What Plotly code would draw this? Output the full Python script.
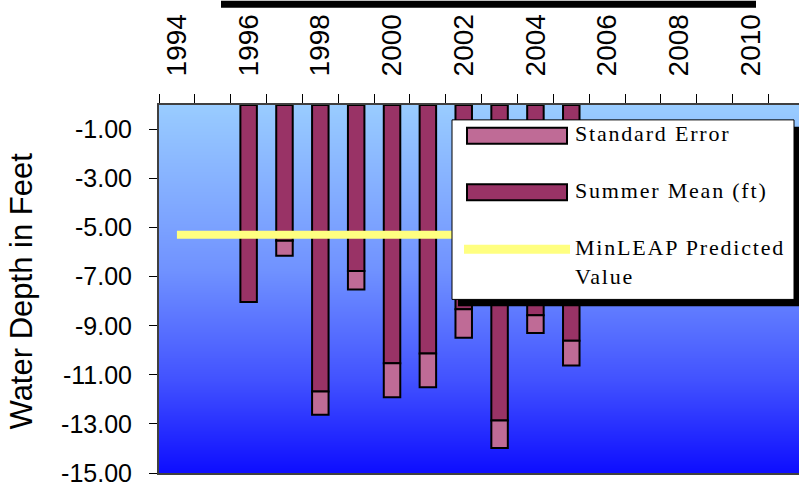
import base64
import struct
import zlib
import plotly.graph_objects as go

# ---- data ----
bar_years = [1996, 1997, 1998, 1999, 2000, 2001, 2002, 2003, 2004, 2005]
summer_mean = [-8.03, -5.53, -11.68, -6.77, -10.53, -10.13, -8.33, -12.86, -8.57, -9.61]
std_error = [0.0, -0.61, -0.95, -0.75, -1.38, -1.37, -1.16, -1.12, -0.72, -1.01]
line_years = [1994, 1995, 1996, 1997, 1998, 1999, 2000, 2001, 2002, 2003, 2004, 2005]
minleap_value = [-5.29] * len(line_years)
axis_years = list(range(1994, 2012))
label_years = [1994, 1996, 1998, 2000, 2002, 2004, 2006, 2008, 2010]
y_ticks = [-1, -3, -5, -7, -9, -11, -13, -15]
y_ticktext = ["-1.00", "-3.00", "-5.00", "-7.00", "-9.00", "-11.00", "-13.00", "-15.00"]

W, H = 799, 487
L, T, B, R = 159, 105, 11, 0
PW, PH = W - L - R, H - T - B

def px(x):
    return (x - L) / PW

def py(y):
    return (H - B - y) / PH

MEAN_C = "#993366"
SE_C = "#BF6B96"
YEL = "#FFFF80"

# ---- vertical gradient background as a small PNG ----
stops = [(0.0, (153, 204, 255)), (0.45, (112, 146, 255)), (0.75, (66, 82, 255)), (1.0, (14, 14, 255))]
def grad(f):
    for (f0, c0), (f1, c1) in zip(stops[:-1], stops[1:]):
        if f0 <= f <= f1:
            t = (f - f0) / (f1 - f0)
            return tuple(round(a + (b - a) * t) for a, b in zip(c0, c1))
    return stops[-1][1]

def make_png(rows):
    h = len(rows)
    raw = b"".join(b"\x00" + bytes(c) for c in rows)
    def chunk(tag, data):
        return struct.pack(">I", len(data)) + tag + data + struct.pack(">I", zlib.crc32(tag + data) & 0xffffffff)
    ihdr = struct.pack(">IIBBBBB", 1, h, 8, 2, 0, 0, 0)
    return b"\x89PNG\r\n\x1a\n" + chunk(b"IHDR", ihdr) + chunk(b"IDAT", zlib.compress(raw)) + chunk(b"IEND", b"")

NG = 371
png = make_png([grad(i / (NG - 1)) for i in range(NG)])
bg_src = "data:image/png;base64," + base64.b64encode(png).decode()

fig = go.Figure()
fig.add_trace(go.Bar(x=bar_years, y=summer_mean, name="Summer Mean (ft)", width=0.46,
                     marker=dict(color=MEAN_C, line=dict(color="black", width=2))))
fig.add_trace(go.Bar(x=bar_years, y=std_error, name="Standard Error", width=0.46,
                     marker=dict(color=SE_C, line=dict(color="black", width=2))))
fig.add_trace(go.Scatter(x=line_years, y=minleap_value, mode="lines", name="MinLEAP Predicted Value",
                         line=dict(color=YEL, width=8)))

shapes = []
# black bar at top
shapes.append(dict(type="rect", xref="paper", yref="paper", x0=px(221), x1=px(756), y0=py(7), y1=py(0),
                   fillcolor="black", line=dict(width=0), layer="above"))
# legend box with shadow
shapes.append(dict(type="rect", xref="paper", yref="paper", x0=px(458), x1=px(801), y0=py(308), y1=py(127),
                   fillcolor="black", line=dict(width=0), layer="above"))
shapes.append(dict(type="rect", xref="paper", yref="paper", x0=px(452), x1=px(794), y0=py(301), y1=py(120),
                   fillcolor="white", line=dict(color="black", width=1), layer="above"))
shapes.append(dict(type="rect", xref="paper", yref="paper", x0=px(467), x1=px(567), y0=py(144), y1=py(128),
                   fillcolor=SE_C, line=dict(color="black", width=2), layer="above"))
shapes.append(dict(type="rect", xref="paper", yref="paper", x0=px(467), x1=px(567), y0=py(201), y1=py(185),
                   fillcolor=MEAN_C, line=dict(color="black", width=2), layer="above"))
shapes.append(dict(type="line", xref="paper", yref="paper", x0=px(464), x1=px(570), y0=py(250.5), y1=py(250.5),
                   line=dict(color=YEL, width=9), layer="above"))

serif = dict(family="Liberation Serif, Times New Roman, serif", size=22, color="black")
def ls(t):
    return '<span style="letter-spacing:1.8px">%s</span>' % t

annotations = [
    dict(text=ls("Standard Error"), x=px(573), y=py(134), xref="paper", yref="paper",
         xanchor="left", yanchor="middle", showarrow=False, font=serif),
    dict(text=ls("Summer Mean (ft)"), x=px(573), y=py(191), xref="paper", yref="paper",
         xanchor="left", yanchor="middle", showarrow=False, font=serif),
    dict(text=ls("MinLEAP Predicted"), x=px(573), y=py(249), xref="paper", yref="paper",
         xanchor="left", yanchor="middle", showarrow=False, font=serif),
    dict(text=ls("Value"), x=px(573), y=py(278), xref="paper", yref="paper",
         xanchor="left", yanchor="middle", showarrow=False, font=serif),
    dict(text="Water Depth in Feet", x=px(21), y=py(293), xref="paper", yref="paper",
         xanchor="center", yanchor="middle", textangle=-90, showarrow=False,
         font=dict(family="Liberation Sans, Arial, sans-serif", size=31, color="black")),
]

fig.update_layout(
    width=W, height=H, autosize=False,
    margin=dict(l=L, r=R, t=T, b=B, pad=0),
    paper_bgcolor="white", plot_bgcolor="#99CCFF",
    barmode="relative", showlegend=False,
    shapes=shapes, annotations=annotations,
    images=[dict(source=bg_src, xref="paper", yref="paper", x=0, y=1, sizex=1, sizey=1,
                 xanchor="left", yanchor="top", sizing="stretch", layer="below")],
    font=dict(family="Liberation Sans, Arial, sans-serif", color="black"),
)
fig.update_xaxes(
    side="top", range=[axis_years[0] - 0.5, axis_years[0] - 0.5 + PW / 35.85],
    tickmode="array", tickvals=label_years, ticktext=[str(y) for y in label_years],
    tickangle=-90, ticks="", ticklabelstandoff=21, ticklabeloverflow="allow",
    tickfont=dict(size=28, family="Liberation Sans, Arial, sans-serif", color="black"),
    minor=dict(tickmode="array", tickvals=[y - 0.5 for y in axis_years] + [axis_years[-1] + 0.5],
               ticks="outside", ticklen=9, tickcolor="black", tickwidth=1, showgrid=False),
    showline=True, linecolor="#404040", linewidth=2, mirror=True,
    showgrid=False, zeroline=False,
)
fig.update_yaxes(
    range=[-15, 0], tickmode="array", tickvals=y_ticks, ticktext=y_ticktext,
    ticks="outside", ticklen=8, tickcolor="black", tickwidth=1, ticklabelstandoff=12,
    ticklabeloverflow="allow",
    tickfont=dict(size=25, family="Liberation Sans, Arial, sans-serif", color="black"),
    showline=True, linecolor="#404040", linewidth=2,
    showgrid=False, zeroline=False,
)

fig.write_html("out.html", config={"displayModeBar": False},
               post_script="document.body.style.margin='0';document.body.style.overflow='hidden';")
